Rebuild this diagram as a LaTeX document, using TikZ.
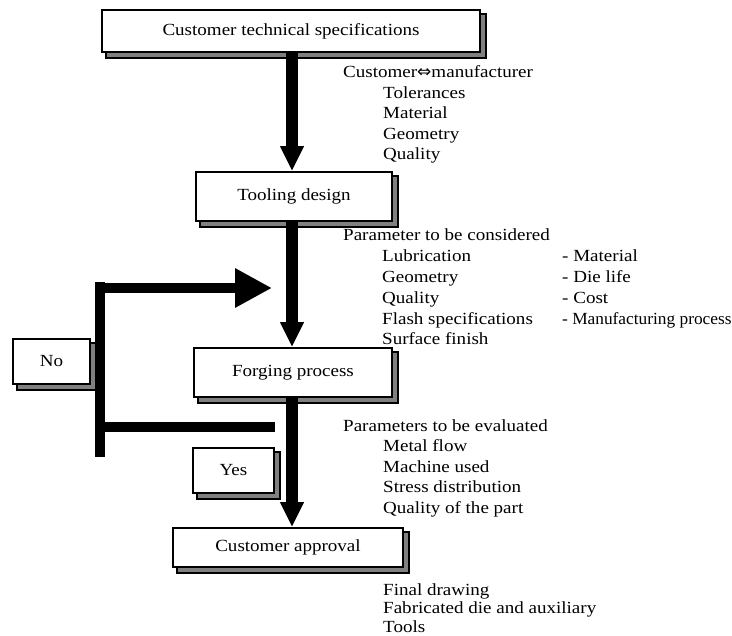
\documentclass[tikz,border=0pt]{standalone}
\usepackage{fontspec}
\usepackage{graphicx}
\setmainfont{Liberation Serif}[FakeStretch=1.12]
\newfontfamily\symfont{DejaVu Sans}
\usetikzlibrary{arrows.meta}
\pgfdeclarelayer{bg}
\pgfsetlayers{bg,main}
\begin{document}
\begin{tikzpicture}[x=1pt,y=-1pt,
  every node/.style={font=\fontsize{17}{20.4}\selectfont, inner sep=0pt},
  box/.style={draw=black, line width=1.6pt, fill=white},
  shadowbox/.style={draw=black, line width=1.6pt, fill=gray},
  lbl/.style={anchor=base west},
  mainarrow/.style={line width=12pt, -{Triangle[width=22pt,length=25pt]}},
  fbline/.style={line width=10pt},
  fbarrow/.style={line width=10pt, -{Triangle[width=37pt,length=37pt]}}]
\useasboundingbox (0,0) rectangle (732,636);
% boxes
\node[box, minimum width=378pt, minimum height=42pt] (b1) at (291,31) {Customer technical specifications};
\node[box, minimum width=196pt, minimum height=49pt] (b2) at (294,196.5) {Tooling design};
\node[box, minimum width=198pt, minimum height=49pt] (b3) at (293,372.5) {Forging process};
\node[box, minimum width=230pt, minimum height=39pt] (b4) at (288,547.5) {Customer approval};
\node[box, minimum width=77pt, minimum height=45pt] (no) at (51.5,361.5) {No};
\node[box, minimum width=81pt, minimum height=45pt] (yes) at (233.5,470.5) {Yes};
\begin{pgfonlayer}{bg}
\foreach \b in {b1,b2,b3,b4,no,yes}{
  \draw[shadowbox] ([xshift=5pt,yshift=-5pt]\b.south west) rectangle ([xshift=5pt,yshift=-5pt]\b.north east);
}
\end{pgfonlayer}
% main arrows
\coordinate (sx) at (292,0);
\draw[mainarrow] (b1.south -| sx) -- (b2.north -| sx);
\draw[mainarrow] (b2.south -| sx) -- (b3.north -| sx);
\draw[mainarrow] (b3.south -| sx) -- (b4.north -| sx);
% feedback loop
\coordinate (fv1) at (100,282);
\coordinate (fv2) at (100,457);
\coordinate (fa1) at (95,288);
\coordinate (fa2) at (272,288);
\coordinate (fb1) at (100,427);
\coordinate (fb2) at (275,427);
\draw[fbline] (fv1) -- (fv2);
\draw[fbarrow] (fa1) -- (fa2);
\draw[fbline] (fb1) -- (fb2);
% side texts
\node[lbl] (ta0) at (343,78) {Customer{\symfont ⇔}manufacturer};
\node[lbl] (ta1) at (383,98.5) {Tolerances};
\node[lbl] (ta2) at (383,119) {Material};
\node[lbl] (ta3) at (383,139.5) {Geometry};
\node[lbl] (ta4) at (383,160) {Quality};
\node[lbl] (tb0) at (343,241) {Parameter to be considered};
\node[lbl] (tb1) at (382,262) {Lubrication};
\node[lbl] (tb2) at (382,283) {Geometry};
\node[lbl] (tb3) at (382,303.5) {Quality};
\node[lbl] (tb4) at (382,324.5) {Flash specifications};
\node[lbl] (tb5) at (382,345) {Surface finish};
\node[lbl] (tc1) at (562,262) {- Material};
\node[lbl] (tc2) at (562,283) {- Die life};
\node[lbl] (tc3) at (562,303.5) {- Cost};
\node[lbl] (tc4) at (562,324.5) {\scalebox{0.91}[1]{- Manufacturing process}};
\node[lbl] (td0) at (343,431.5) {Parameters to be evaluated};
\node[lbl] (td1) at (383,452) {Metal flow};
\node[lbl] (td2) at (383,472.5) {Machine used};
\node[lbl] (td3) at (383,493) {Stress distribution};
\node[lbl] (td4) at (383,513.5) {Quality of the part};
\node[lbl] (te1) at (383,595) {Final drawing};
\node[lbl] (te2) at (383,614) {Fabricated die and auxiliary};
\node[lbl] (te3) at (383,633) {Tools};
\end{tikzpicture}
\end{document}
